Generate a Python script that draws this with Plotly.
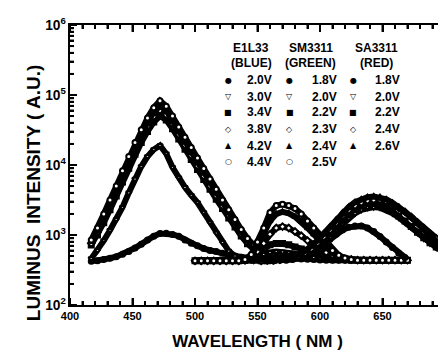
import math
import plotly.graph_objects as go

# ---------------- data ----------------
wl_blue = [417, 422, 427, 432, 437, 442, 447, 452, 457, 462, 467, 472, 477, 482, 487,
           492, 497, 502, 507, 512, 517, 522, 527, 532, 537, 542, 547, 552, 557, 562]
blue_names = ["2.0V", "3.0V", "3.4V", "3.8V", "4.2V", "4.4V"]
blue_20 = [420, 430, 445, 465, 490, 530, 580, 650, 740, 850, 960, 1050, 1060, 1020, 960,
           850, 760, 700, 640, 600, 580, 550, 520, 500, 480, 470, 460, 455, 450, 450]
blue_30 = [460, 600, 830, 1170, 1660, 2500, 4000, 6300, 9500, 13200, 16600, 19000, 14500, 9300, 6600,
           4800, 3700, 2900, 2100, 1500, 1070, 780, 590, 500, 460, 440, 430, 430, 430, 430]
blue_34 = [720, 1000, 1500, 2300, 3600, 5700, 9000, 14200, 21000, 30000, 41000, 50000, 44000, 33000, 23500,
           16800, 12000, 8600, 6200, 4500, 3250, 2400, 1750, 1300, 970, 750, 610, 520, 470, 445]
blue_38 = [760, 1080, 1650, 2550, 4000, 6400, 10200, 16300, 24500, 35500, 49000, 60000, 52000, 38500, 27000,
           19200, 13600, 9700, 6900, 5000, 3600, 2600, 1900, 1400, 1030, 790, 640, 535, 480, 450]
blue_42 = [800, 1150, 1800, 2800, 4400, 7200, 11500, 18500, 28000, 41000, 57000, 70000, 60000, 44000, 31000,
           22000, 15500, 11000, 7800, 5600, 4000, 2850, 2100, 1520, 1100, 830, 670, 550, 490, 455]
blue_44 = [850, 1260, 2000, 3160, 5000, 8300, 13200, 21000, 32000, 47000, 66000, 83000, 69000, 50000, 35000,
           25000, 17800, 12600, 8900, 6300, 4500, 3160, 2300, 1660, 1200, 890, 710, 575, 500, 460]

wl_green = [500, 505, 510, 515, 520, 525, 530, 535, 540, 545, 550, 555, 560, 565, 570, 575, 580,
            585, 590, 595, 600, 605, 610, 615, 620, 625, 630, 635, 640, 645, 650, 655, 660, 665, 670]
green_names = ["1.8V", "2.0V", "2.2V", "2.3V", "2.4V", "2.5V"]
green_18 = [425, 425, 425, 425, 425, 425, 425, 425, 428, 435, 450, 465, 475, 480, 478, 470, 462,
            455, 450, 445, 440, 435, 435, 435, 435, 435, 435, 435, 435, 435, 435, 435, 435, 435, 435]
green_20 = [427, 427, 427, 427, 427, 427, 427, 427, 430, 445, 480, 530, 565, 580, 575, 560, 540,
            515, 495, 480, 468, 457, 450, 445, 440, 440, 440, 440, 440, 440, 440, 440, 440, 440, 440]
green_22 = [427, 427, 427, 427, 427, 427, 427, 427, 432, 457, 525, 631, 724, 759, 759, 724, 676,
            631, 589, 550, 513, 490, 468, 457, 447, 437, 437, 437, 437, 437, 437, 437, 437, 437, 437]
green_23 = [427, 427, 427, 427, 427, 427, 427, 427, 437, 479, 575, 759, 1023, 1259, 1318, 1259, 1122,
            977, 832, 724, 631, 562, 513, 479, 457, 447, 437, 437, 437, 437, 437, 437, 437, 437, 437]
green_24 = [427, 427, 427, 427, 427, 427, 427, 427, 437, 501, 692, 1047, 1585, 1995, 2138, 2042, 1820,
            1549, 1259, 1023, 813, 661, 550, 490, 457, 447, 437, 437, 437, 437, 437, 437, 437, 437, 437]
green_25 = [427, 427, 427, 427, 427, 427, 427, 427, 447, 525, 794, 1259, 2089, 2630, 2754, 2630, 2399,
            1995, 1585, 1259, 955, 759, 603, 513, 468, 447, 437, 437, 437, 437, 437, 437, 437, 437, 437]

wl_red = [553, 558, 563, 568, 573, 578, 583, 588, 593, 598, 603, 608, 613, 618, 623, 628,
          633, 638, 643, 648, 653, 658, 663, 668, 673, 678, 683, 688, 693, 698, 703]
red_names = ["1.8V", "2.0V", "2.2V", "2.4V", "2.6V"]
red_18 = [427, 427, 427, 437, 437, 447, 468, 501, 550, 631, 741, 871, 1023, 1175, 1288, 1349,
          1349, 1259, 1122, 955, 794, 661, 550, 479, None, None, None, None, None, None, None]
red_20 = [427, 427, 427, 437, 447, 457, 479, 501, 550, 631, 759, 933, 1175, 1445, 1738, 2042,
          2291, 2455, 2512, 2455, 2291, 2042, 1778, 1514, 1288, 1072, 891, 759, 661, 589, 537]
red_22 = [427, 427, 437, 447, 457, 468, 490, 525, 589, 692, 851, 1072, 1349, 1660, 1995, 2344,
          2630, 2818, 2818, 2692, 2455, 2188, 1862, 1585, 1318, 1096, 912, 776, 676, 603, 550]
red_24 = [427, 437, 437, 447, 457, 479, 501, 550, 631, 759, 933, 1175, 1479, 1862, 2239, 2630,
          2884, 3090, 3162, 3162, 3020, 2754, 2455, 2138, 1820, 1514, 1259, 1047, 891, 759, 661]
red_26 = [437, 437, 447, 457, 468, 490, 525, 589, 692, 832, 1047, 1318, 1660, 2089, 2512, 2951,
          3236, 3467, 3548, 3467, 3236, 2884, 2512, 2138, 1778, 1445, 1175, 977, 813, 692, 603]

# axis ticks: x from 400 to 700 every 50 nm (minor every 10); y decades 10^2 .. 10^6
x_range = [400, 700]
x_major_step = 50
x_minor_step = 10
y_decades = [2, 3, 4, 5, 6]

families = [
    ("E1L33", "(BLUE)", wl_blue, blue_names, [blue_20, blue_30, blue_34, blue_38, blue_42, blue_44]),
    ("SM3311", "(GREEN)", wl_green, green_names, [green_18, green_20, green_22, green_23, green_24, green_25]),
    ("SA3311", "(RED)", wl_red, red_names, [red_18, red_20, red_22, red_24, red_26]),
]

# ---------------- styles ----------------
symbols = ["circle", "triangle-down", "square", "diamond", "triangle-up", "circle"]
fills = ["black", "white", "black", "white", "black", "white"]
glyphs = ["\u25CF", "\u25BD", "\u25A0", "\u25C7", "\u25B2", "\u25CB"]
FONT = "Liberation Sans"

W, H = 446, 358
ML, MR, MT, MB = 62, 7, 12, 61
PW, PH = W - ML - MR, H - MT - MB


def px_x(px):
    return (px - ML) / PW


def px_y(py):
    return (H - MB - py) / PH


fig = go.Figure()
for head, sub, wl, names, series in families:
    for i, (nm, vals) in enumerate(zip(names, series)):
        fig.add_trace(go.Scatter(
            x=wl, y=vals, name=f"{head} {nm}", mode="lines+markers",
            line=dict(color="black", width=6),
            marker=dict(symbol=symbols[i], size=5, color=fills[i],
                        line=dict(color="black", width=2)),
            showlegend=False, connectgaps=False,
        ))

# legend drawn as text (three columns with headers)
col_sym_x = [221, 283, 347]
col_txt_x = [238, 303, 367]
col_head_x = [244, 304, 370]
row_y = [68, 85, 101, 118, 135, 151]
ann = []
for c, (head, sub, wl, names, series) in enumerate(families):
    ann.append(dict(x=px_x(col_head_x[c]), y=px_y(35), xref="paper", yref="paper",
                    text=f"<b>{head}</b>", showarrow=False, xanchor="center", yanchor="middle",
                    font=dict(family=FONT, size=12, color="black")))
    ann.append(dict(x=px_x(col_head_x[c]), y=px_y(51), xref="paper", yref="paper",
                    text=f"<b>{sub}</b>", showarrow=False, xanchor="center", yanchor="middle",
                    font=dict(family=FONT, size=12, color="black")))
    for r, nm in enumerate(names):
        ann.append(dict(x=px_x(col_sym_x[c]), y=px_y(row_y[r]), xref="paper", yref="paper",
                        text=glyphs[r], showarrow=False, xanchor="center", yanchor="middle",
                        font=dict(family="DejaVu Sans", size=8, color="black")))
        ann.append(dict(x=px_x(col_txt_x[c]), y=px_y(row_y[r]), xref="paper", yref="paper",
                        text=f"<b>{nm}</b>", showarrow=False, xanchor="left", yanchor="middle",
                        font=dict(family=FONT, size=12, color="black")))

# y-axis title
ann.append(dict(x=px_x(25), y=px_y(183), xref="paper", yref="paper",
                text="<b>LUMINUS  INTENSITY ( A.U.)</b>", textangle=-90, showarrow=False,
                xanchor="center", yanchor="middle",
                font=dict(family=FONT, size=19, color="black")))

# inward tick combs on all four sides (frame decoration, positions from the axis ranges)
shapes = []
MAJ, MIN = 7, 4
tick_line = dict(color="black", width=2)
for v in range(x_range[0], x_range[1] + 1, x_minor_step):
    fx = (v - x_range[0]) / (x_range[1] - x_range[0])
    L = (MAJ if (v - x_range[0]) % x_major_step == 0 else MIN) / PH
    shapes.append(dict(type="line", xref="paper", yref="paper", x0=fx, x1=fx, y0=0, y1=L,
                       line=tick_line, layer="above"))
    shapes.append(dict(type="line", xref="paper", yref="paper", x0=fx, x1=fx, y0=1, y1=1 - L,
                       line=tick_line, layer="above"))
span = y_decades[-1] - y_decades[0]
for d in y_decades:
    for m in range(1, 10):
        if d == y_decades[-1] and m > 1:
            break
        fy = (d + math.log10(m) - y_decades[0]) / span
        L = (MAJ if m == 1 else MIN) / PW
        shapes.append(dict(type="line", xref="paper", yref="paper", x0=0, x1=L, y0=fy, y1=fy,
                           line=tick_line, layer="above"))
        shapes.append(dict(type="line", xref="paper", yref="paper", x0=1, x1=1 - L, y0=fy, y1=fy,
                           line=tick_line, layer="above"))

fig.update_layout(
    width=W, height=H, margin=dict(l=ML, r=MR, t=MT, b=MB),
    plot_bgcolor="white", showlegend=False,
    annotations=ann, shapes=shapes,
    xaxis=dict(range=x_range, showline=True, linecolor="black", linewidth=2,
               mirror="allticks", ticks="inside", ticklen=7, tickwidth=2, tickcolor="black",
               tick0=x_range[0], dtick=x_major_step,
               tickprefix="<b>", ticksuffix="</b>",
               tickfont=dict(family=FONT, size=11, color="black"),
               minor=dict(ticks="inside", ticklen=4, tickwidth=1.5, dtick=x_minor_step,
                          tickcolor="black"),
               title=dict(text="<b>WAVELENGTH ( NM )</b>", standoff=14,
                          font=dict(family=FONT, size=17, color="black"))),
    yaxis=dict(type="log", range=[y_decades[0], y_decades[-1]], showline=True, linecolor="black",
               linewidth=2, mirror="allticks", ticks="inside", ticklen=7, tickwidth=2,
               tickcolor="black", dtick=1, exponentformat="power", showexponent="all",
               tickprefix="<b>", ticksuffix="</b>",
               tickfont=dict(family=FONT, size=11, color="black"),
               minor=dict(ticks="inside", ticklen=4, tickwidth=1.5, dtick="D1", tickcolor="black")),
)

fig.write_html("out.html")
